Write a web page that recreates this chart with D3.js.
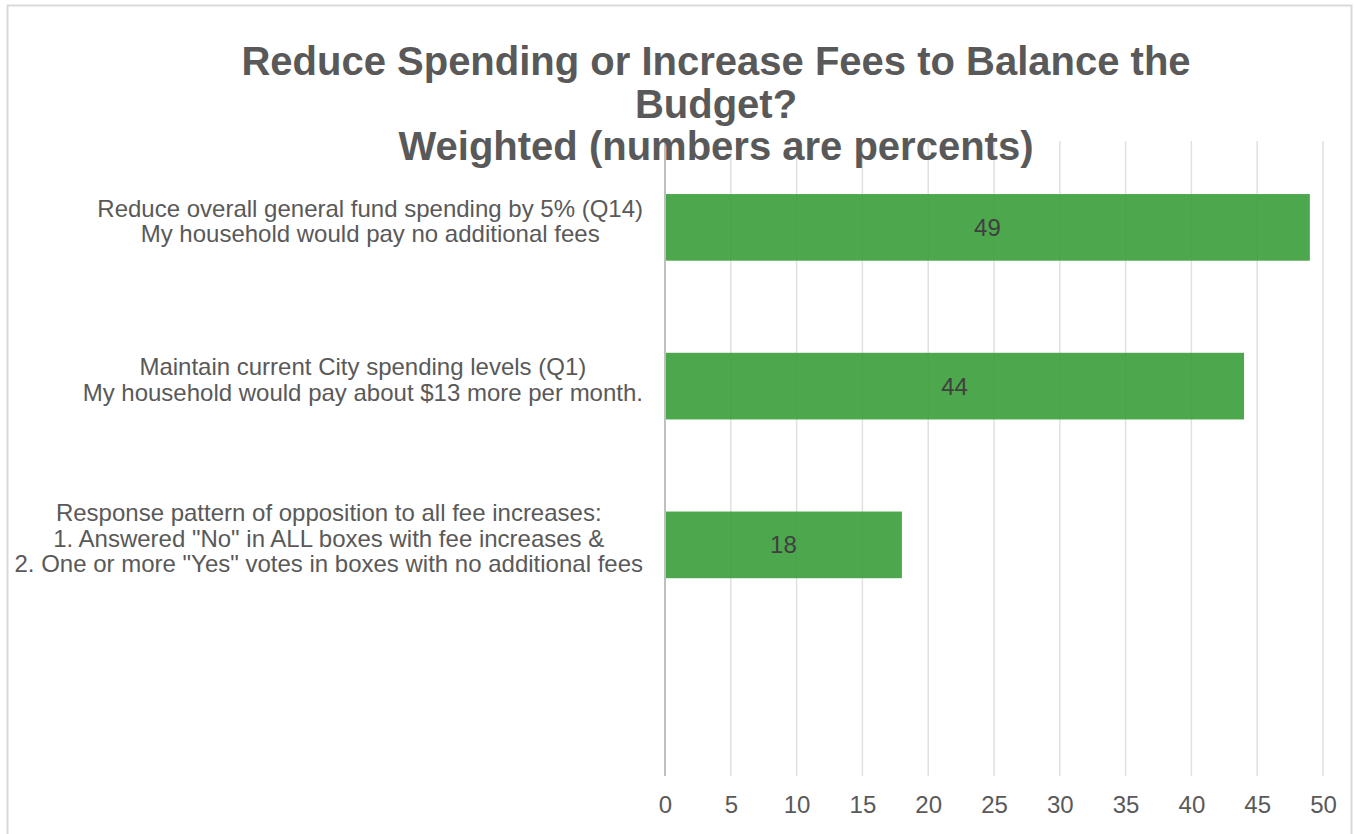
<!DOCTYPE html>
<html>
<head>
<meta charset="utf-8">
<script src="https://cdn.jsdelivr.net/npm/d3@7"></script>
<style>
  html, body { margin: 0; padding: 0; background: #fff; }
  svg { display: block; font-family: "Liberation Sans", Arial, sans-serif; }
</style>
</head>
<body>
<svg id="chart"></svg>
<script>
// data
const titleLines = ["Reduce Spending or Increase Fees to Balance the", "Budget?", "Weighted (numbers are percents)"];
const categories = [
    ["Reduce overall general fund spending by 5% (Q14)", "My household would pay no additional fees"],
    ["Maintain current City spending levels (Q1)", "My household would pay about $13 more per month."],
    ["Response pattern of opposition to all fee increases:", "1. Answered \"No\" in ALL boxes with fee increases &", "2. One or more \"Yes\" votes in boxes with no additional fees"],
    [""]
];
const values = [49, 44, 18, null];
const xTicks = [0, 5, 10, 15, 20, 25, 30, 35, 40, 45, 50];

// layout
const width = 1354, height = 834;
const plotLeft = 665, plotRight = 1323;
const gridTop = 141, gridBottom = 776;
const labelRight = 643;
const textColor = "#595959";
const barColor = "#3a9d3a";
const titleTop = 75, titleGap = 42.5;

const svg = d3.select("#chart")
    .attr("width", width)
    .attr("height", height);

svg.append("rect")
    .attr("width", width).attr("height", height)
    .attr("fill", "#fff");

// chart frame
svg.append("rect")
    .attr("x", 7.5).attr("y", 5.5)
    .attr("width", 1344).attr("height", 850)
    .attr("fill", "none")
    .attr("stroke", "#d9d9d9")
    .attr("stroke-width", 2);

const x = d3.scaleLinear().domain([0, 50]).range([plotLeft, plotRight]);
const y = d3.scaleBand()
    .domain(d3.range(categories.length))
    .range([gridTop + 7, gridBottom + 7])
    .paddingInner(0.58)
    .paddingOuter(0.29);

// gridlines
svg.append("g").selectAll("line")
    .data(xTicks.filter(d => d > 0))
    .join("line")
    .attr("x1", d => x(d)).attr("x2", d => x(d))
    .attr("y1", gridTop).attr("y2", gridBottom)
    .attr("stroke", "#e0e0e0")
    .attr("stroke-width", 1.5);

// axis line at 0
svg.append("line")
    .attr("x1", x(0)).attr("x2", x(0))
    .attr("y1", gridTop).attr("y2", gridBottom)
    .attr("stroke", "#bfbfbf")
    .attr("stroke-width", 2);

// tick labels
const xAxis = svg.append("g")
    .attr("transform", `translate(0,${gridBottom})`)
    .call(d3.axisBottom(x).tickValues(xTicks).tickSize(0).tickPadding(0));
xAxis.select(".domain").remove();
xAxis.selectAll("text")
    .attr("y", 37)
    .attr("dy", null)
    .attr("fill", textColor)
    .style("font-size", "24px")
    .style("font-family", "'Liberation Sans', Arial, sans-serif");

// bars
const barData = values.map((v, i) => ({ i, v })).filter(d => d.v !== null);
svg.append("g").selectAll("rect")
    .data(barData)
    .join("rect")
    .attr("x", x(0) + 1)
    .attr("y", d => y(d.i))
    .attr("width", d => x(d.v) - x(0) - 1)
    .attr("height", y.bandwidth())
    .attr("fill", barColor)
    .attr("opacity", 0.9);

// value labels
svg.append("g").selectAll("text")
    .data(barData)
    .join("text")
    .attr("x", d => (x(0) + x(d.v)) / 2)
    .attr("y", d => y(d.i) + y.bandwidth() / 2 + 8.5)
    .attr("text-anchor", "middle")
    .attr("fill", "#404040")
    .style("font-size", "24px")
    .text(d => d.v);

// category labels: block right aligned, lines centred in the block
const lineGap = 25.5;
categories.forEach((lines, i) => {
    const g = svg.append("g");
    const texts = g.selectAll("text")
        .data(lines)
        .join("text")
        .attr("fill", textColor)
        .attr("text-anchor", "middle")
        .style("font-size", "24px")
        .text(d => d);
    let maxW = 0;
    texts.each(function () { maxW = Math.max(maxW, this.getComputedTextLength()); });
    const cy = y(i) + y.bandwidth() / 2;
    texts
        .attr("x", labelRight - maxW / 2)
        .attr("y", (d, j) => cy + (j - (lines.length - 1) / 2) * lineGap + 2);
});

// title
svg.append("g").selectAll("text")
    .data(titleLines)
    .join("text")
    .attr("x", 716)
    .attr("y", (d, i) => titleTop + i * titleGap)
    .attr("text-anchor", "middle")
    .attr("fill", textColor)
    .style("font-size", "40px")
    .style("font-weight", "bold")
    .text(d => d);
</script>
</body>
</html>
